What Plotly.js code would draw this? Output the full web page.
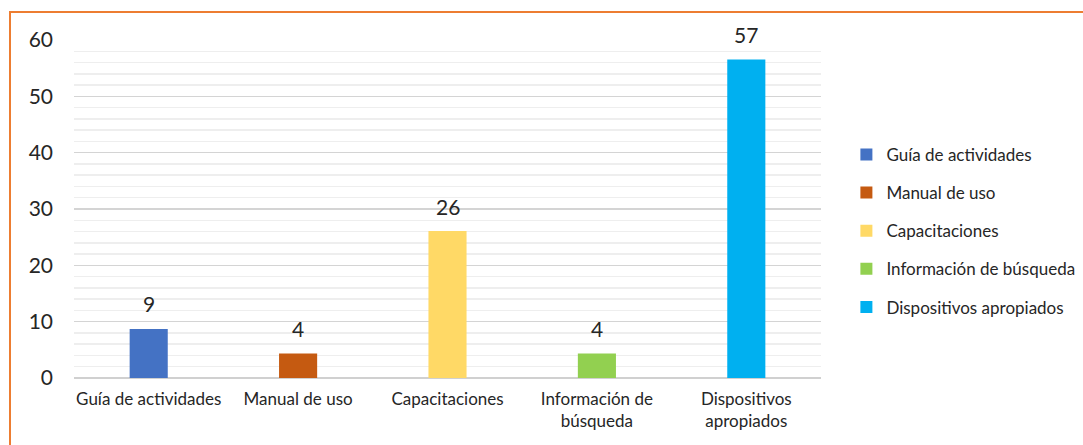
<!DOCTYPE html>
<html>
<head>
<meta charset="utf-8">
<script src="https://cdn.plot.ly/plotly-3.0.1.min.js"></script>
<style>
  html, body { margin: 0; padding: 0; background: #ffffff; overflow: hidden; }
  #chart { position: absolute; left: 0; top: 0; width: 1083px; height: 445px; }
  #frame { position: absolute; left: 9px; top: 11px; width: 1200px; height: 600px;
           border-left: 2px solid #ED7D31; border-top: 2px solid #ED7D31; pointer-events: none; }
</style>
</head>
<body>
<div id="chart"></div>
<div id="frame"></div>
<script>
// Data
const categories = ["Guía de actividades", "Manual de uso", "Capacitaciones", "Información de búsqueda", "Dispositivos apropiados"];
const tickLabels = ["Guía de actividades", "Manual de uso", "Capacitaciones", "Información de<br>búsqueda", "Dispositivos<br>apropiados"];
const values = [8.70, 4.35, 26.09, 4.35, 56.52];
const valueLabels = ["9", "4", "26", "4", "57"];
const colors = ["#4472C4", "#C55A11", "#FFD966", "#92D050", "#00B0F0"];

const FONT = "Lato, 'Open Sans', sans-serif";
const TXT = "#262626";

const traces = categories.map((c, i) => ({
  type: "bar",
  name: c,
  x: [c],
  y: [values[i]],
  width: 0.255,
  marker: { color: colors[i] },
  legendgroup: "g" + i,
  hoverinfo: "x+y"
}));

const annotations = categories.map((c, i) => ({
  x: c, y: values[i], xref: "x", yref: "y",
  text: valueLabels[i], showarrow: false,
  yanchor: "middle", yshift: 25,
  font: { family: FONT, size: 21, color: TXT }
}));

const layout = {
  width: 1083, height: 445,
  margin: { l: 74, r: 262, t: 40, b: 67, autoexpand: false },
  paper_bgcolor: "rgba(0,0,0,0)",
  plot_bgcolor: "#ffffff",
  barmode: "overlay",
  showlegend: true,
  font: { family: FONT, color: TXT },
  xaxis: {
    type: "category",
    categoryorder: "array",
    categoryarray: categories,
    tickmode: "array",
    tickvals: categories,
    ticktext: tickLabels,
    showgrid: false,
    showline: false,
    ticks: "",
    ticklabelstandoff: 9,
    tickfont: { family: FONT, size: 17, color: TXT },
    automargin: false,
    fixedrange: true
  },
  yaxis: {
    range: [0, 60],
    dtick: 10,
    tick0: 0,
    showgrid: true,
    gridcolor: "#d4d4d4",
    gridwidth: 1.5,
    zeroline: true,
    zerolinecolor: "#d0d0d0",
    zerolinewidth: 1.5,
    minor: { dtick: 2, showgrid: true, gridcolor: "#eeeeee", gridwidth: 1.5 },
    ticks: "",
    ticklabelstandoff: 20,
    tickfont: { family: FONT, size: 21, color: TXT },
    automargin: false,
    fixedrange: true
  },
  legend: {
    x: 1.034, xanchor: "left",
    y: 0.435, yanchor: "middle",
    traceorder: "grouped",
    tracegroupgap: 13,
    font: { family: FONT, size: 17, color: TXT },
    itemwidth: 30,
    bgcolor: "rgba(0,0,0,0)"
  },
  annotations: annotations
};

Plotly.newPlot("chart", traces, layout, { displayModeBar: false, staticPlot: true });
</script>
</body>
</html>
